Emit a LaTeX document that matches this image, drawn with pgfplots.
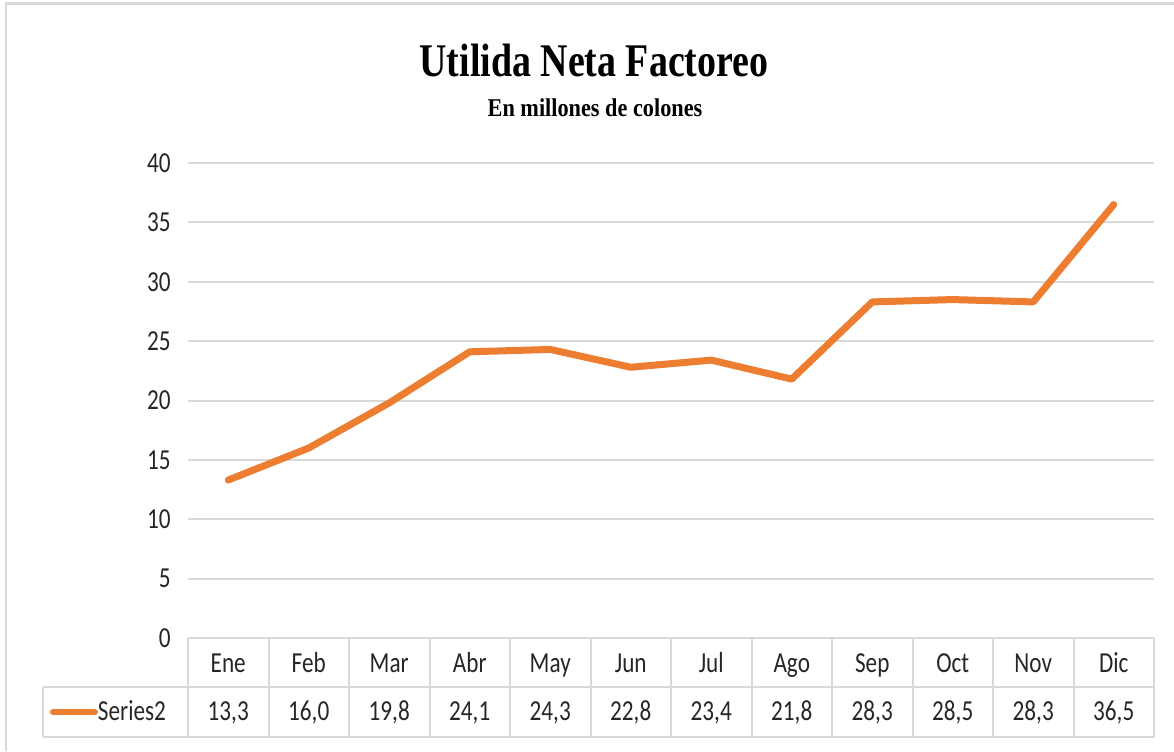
\documentclass[border=0pt]{standalone}
\usepackage{fontspec}
\setmainfont{Carlito}[FakeStretch=0.8]
\newfontfamily\titlefont{Liberation Serif}[FakeStretch=0.81]
\newfontfamily\subfont{Liberation Serif}[FakeStretch=0.87]
\usepackage{pgfplots}
\pgfplotsset{compat=1.18}
\definecolor{lineor}{HTML}{ED7D31}
\definecolor{gridg}{HTML}{D9D9D9}
\definecolor{txt}{HTML}{262626}
\begin{document}
\begin{tikzpicture}
\useasboundingbox (0,0) rectangle (587pt,375.5pt);
\begin{axis}[
  at={(94pt,56.5pt)}, anchor=south west,
  scale only axis, width=483pt, height=237.5pt,
  xmin=-0.5, xmax=11.5, ymin=0, ymax=40,
  ytick={0,5,...,40},
  xtick={0,...,11},
  xticklabels={{\strut Ene\\\strut 13,3},{\strut Feb\\\strut 16,0},{\strut Mar\\\strut 19,8},{\strut Abr\\\strut 24,1},{\strut May\\\strut 24,3},{\strut Jun\\\strut 22,8},{\strut Jul\\\strut 23,4},{\strut Ago\\\strut 21,8},{\strut Sep\\\strut 28,3},{\strut Oct\\\strut 28,5},{\strut Nov\\\strut 28,3},{\strut Dic\\\strut 36,5}},
  axis line style={draw=none},
  major tick length=0pt,
  ymajorgrids, grid style={gridg, line width=1pt},
  tick label style={font=\fontsize{14.5}{24}\selectfont, text=txt},
  yticklabel style={anchor=east, xshift=-5.2pt},
  xticklabel style={align=center, anchor=north, inner sep=0pt, yshift=0pt},
  /pgf/number format/assume math mode=true,
  clip=false,
  legend style={at={(axis description cs:-0.1429,-0.1558)}, anchor=west, draw=none, fill=none, inner sep=0pt, outer sep=0pt, font=\fontsize{14.5}{24}\selectfont, text=txt, nodes={inner sep=0pt}, /tikz/every even column/.style={column sep=2pt}},
  legend image code/.code={\draw[#1, line width=3pt] (0pt,0pt) -- (21pt,0pt);},
]
\addplot[lineor, line width=3.5pt, line cap=round, line join=round] coordinates {
  (0,13.3) (1,16.0) (2,19.8) (3,24.1) (4,24.3) (5,22.8)
  (6,23.4) (7,21.8) (8,28.3) (9,28.5) (10,28.3) (11,36.5)};
\addlegendentry{Series2}
\end{axis}
\begin{scope}[x=0.5pt,y=-0.5pt,yshift=375.5pt]
  \draw[gridg, line width=1.2pt] (6,751) -- (6,3.5) -- (1174,3.5);
  \draw[gridg, line width=1pt] (188,638) -- (1154,638);
  \draw[gridg, line width=1pt] (43,687) -- (1154,687);
  \draw[gridg, line width=1pt] (43,737) -- (1154,737);
  \draw[gridg, line width=1pt] (43,687) -- (43,737);
  \foreach \i in {0,...,12} {\draw[gridg, line width=1pt] ({188+80.5*\i},638) -- ({188+80.5*\i},737);}
  \node[font=\titlefont\bfseries\fontsize{23.4}{28}\selectfont, text=black] at (594,60) {Utilida Neta Factoreo};
  \node[font=\subfont\bfseries\fontsize{12.8}{15}\selectfont, text=black] at (595,108) {En millones de colones};
\end{scope}
\end{tikzpicture}
\end{document}
